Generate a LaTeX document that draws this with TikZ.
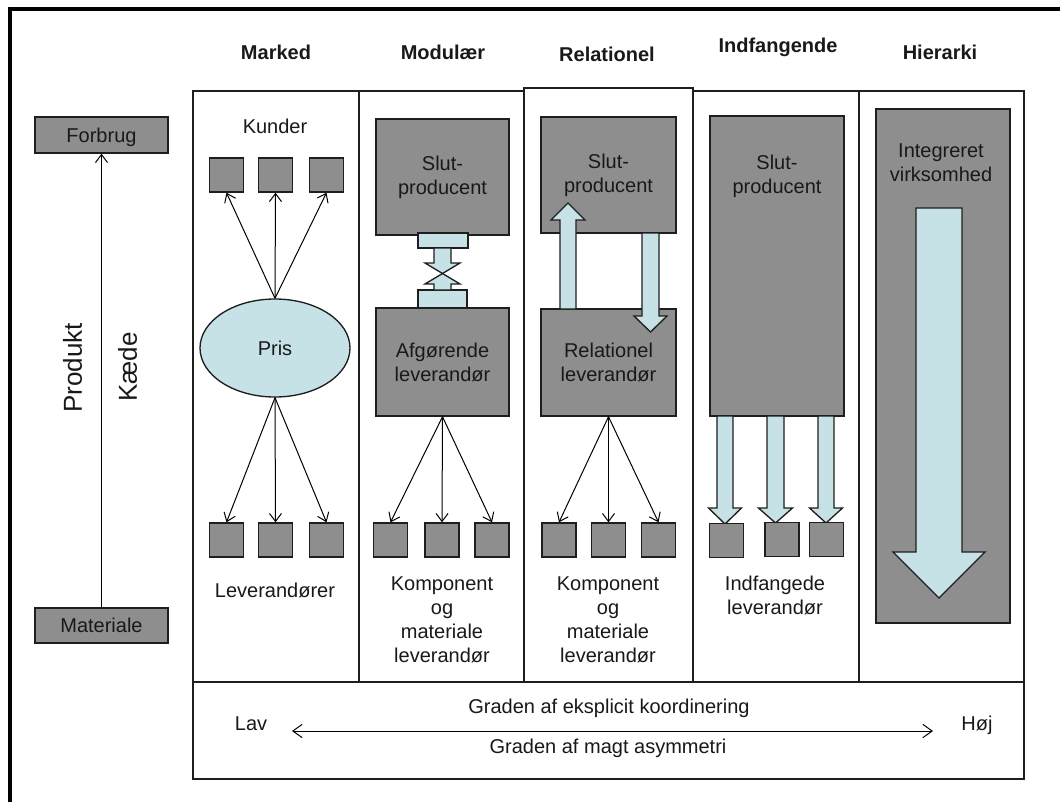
\documentclass[tikz,border=0pt]{standalone}
\usepackage{fontspec}
\setmainfont{Liberation Sans}
\usetikzlibrary{arrows.meta,shapes.geometric}
\definecolor{bgray}{RGB}{142,142,142}
\definecolor{lblue}{RGB}{198,226,230}
\definecolor{edge}{RGB}{30,30,30}
\newcommand\pp[1]{#1*0.75pt}
% x, y tail, y wing, y tip, half shaft, half head
\newcommand\blockarrow[7][blk]{\path[#1] ({#2-#6},#3) -- ({#2-#6},#4) -- ({#2-#7},#4) -- (#2,#5) -- ({#2+#7},#4) -- ({#2+#6},#4) -- ({#2+#6},#3) -- cycle;}
\begin{document}
\begin{tikzpicture}[x=0.75pt,y=-0.75pt,
  txt/.style={font=\fontsize{15}{18}\selectfont, inner sep=0pt, align=center, text=black!90},
  hdr/.style={font=\fontsize{15}{18}\selectfont\bfseries, inner sep=0pt, anchor=base, text=black!90},
  capc/.style={text height=10.7pt, text depth=0pt},
  gbox/.style={draw=edge, line width=1.1pt, fill=bgray, inner sep=0pt},
  sq/.style={gbox, minimum width=\pp{34}, minimum height=\pp{34}},
  bbox/.style 2 args={gbox, minimum width=\pp{#1}, minimum height=\pp{#2}},
  lbbox/.style 2 args={draw=edge, line width=1pt, fill=lblue, inner sep=0pt, minimum width=\pp{#1}, minimum height=\pp{#2}},
  colline/.style={draw=edge, line width=0.9pt},
  thinarr/.style={draw=black, line width=0.75pt, -{Straight Barb[length=6pt,width=9pt]}},
  blk/.style={draw=edge, line width=1pt, fill=lblue, line join=miter}
]
\useasboundingbox (0,0) rectangle (1060,801);
\fill[white] (0,0) rectangle (1060,801);
% outer frame
\draw[line width=2.6pt, black] (10,815) -- (10,9) -- (1075,9);
% table
\draw[colline] (193,91) rectangle (1024,682);
\draw[colline] (359,91) -- (359,682);
\draw[colline] (859,91) -- (859,682);
\draw[colline, fill=white] (524,88) rectangle (693,682);
\draw[colline] (193,682) rectangle (1024,779);
% headers
\node[hdr] (hmarked) at (276,59) {Marked};
\node[hdr] (hmodul) at (443,59) {Modulær};
\node[hdr] (hrel) at (607,61) {Relationel};
\node[hdr] (hindf) at (778,52) {Indfangende};
\node[hdr] (hhier) at (940,59) {Hierarki};
% left side
\node[bbox={133}{36}, txt, capc] (forb) at (101.5,135) {Forbrug};
\node[bbox={133}{35}, txt, capc] (mat) at (101.5,625.5) {Materiale};
\draw[thinarr] (mat.north) -- (forb.south);
\node[txt, rotate=90, font=\fontsize{19.5}{22}\selectfont] (prod) at (72.5,368) {Produkt};
\node[txt, rotate=90, font=\fontsize{19.5}{22}\selectfont] (kaede) at (127.5,367) {Kæde};
% Marked
\node[txt, anchor=base] (kunder) at (275,133) {Kunder};
\node[sq] (k1) at (226.5,175) {};
\node[sq] (k2) at (275.5,175) {};
\node[sq] (k3) at (326.5,175) {};
\node[ellipse, draw=edge, line width=1pt, fill=lblue, minimum width=\pp{150}, minimum height=\pp{98}, txt, capc] (pris) at (275,348) {Pris};
\draw[thinarr] (pris.north) -- (k1.south);
\draw[thinarr] (pris.north) -- (k2.south);
\draw[thinarr] (pris.north) -- (k3.south);
\node[sq] (l1) at (226.5,540) {};
\node[sq] (l2) at (275.5,540) {};
\node[sq] (l3) at (326.5,540) {};
\draw[thinarr] (pris.south) -- (l1.north);
\draw[thinarr] (pris.south) -- (l2.north);
\draw[thinarr] (pris.south) -- (l3.north);
\node[txt, anchor=base] (lev) at (275,597) {Leverandører};
% Modulaer
\node[bbox={133}{116}, txt] (mslut) at (442.5,177) {Slut-\\producent};
\node[bbox={133}{108}, txt] (afg) at (442.5,362) {Afgørende\\leverandør};
\node[lbbox={50}{15}] (mc1) at (443,240.5) {};
\node[lbbox={49}{18}] (mc2) at (442.5,299) {};
\blockarrow[fill=lblue]{442.5}{248}{263}{273.5}{8.5}{17.5}
\blockarrow[fill=lblue]{442.5}{290}{284}{273.5}{8.5}{17.5}
\blockarrow[draw=edge,line width=1pt,line join=miter]{442.5}{248}{263}{273.5}{8.5}{17.5}
\blockarrow[draw=edge,line width=1pt,line join=miter]{442.5}{290}{284}{273.5}{8.5}{17.5}
\node[sq] (m1) at (390.5,540) {};
\node[sq] (m2) at (442,540) {};
\node[sq] (m3) at (492,540) {};
\draw[thinarr] (afg.south) -- (m1.north);
\draw[thinarr] (afg.south) -- (m2.north);
\draw[thinarr] (afg.south) -- (m3.north);
\node[txt] (mkomp) at (442,620) {Komponent\\og\\materiale\\leverandør};
% Relationel
\node[bbox={135}{116}, txt] (rslut) at (608.5,175) {Slut-\\producent};
\node[bbox={135}{107}, txt] (rel) at (608.5,362.5) {Relationel\\leverandør};
\blockarrow{568}{309}{220}{203}{8}{17}
\blockarrow{650.5}{233}{316}{332}{8.5}{16.5}
\node[sq] (r1) at (559,540) {};
\node[sq] (r2) at (608.5,540) {};
\node[sq] (r3) at (658.5,540) {};
\draw[thinarr] (rel.south) -- (r1.north);
\draw[thinarr] (rel.south) -- (r2.north);
\draw[thinarr] (rel.south) -- (r3.north);
\node[txt] (rkomp) at (608,620) {Komponent\\og\\materiale\\leverandør};
% Indfangende
\node[bbox={134}{300}] (islut) at (777,266) {};
\node[txt] (islutt) at (777,176) {Slut-\\producent};
\blockarrow{725}{416}{508}{524}{8}{16.5}
\blockarrow{775.5}{416}{508}{523}{8.5}{17}
\blockarrow{826}{416}{508}{523}{8}{16.5}
\node[sq] (i1) at (726.5,540.5) {};
\node[sq] (i2) at (782,539.5) {};
\node[sq] (i3) at (826.5,539.5) {};
\node[txt] (ilev) at (775,595) {Indfangede\\leverandør};
% Hierarki
\node[bbox={134}{514}] (hier) at (943,366) {};
\node[txt] (hiert) at (941,163) {Integreret\\virksomhed};
\blockarrow{939}{208}{552}{598}{23}{46}
% bottom panel
\node[txt, anchor=base] (gk) at (609,713) {Graden af eksplicit koordinering};
\node[txt, anchor=base] (gm) at (608,753) {Graden af magt asymmetri};
\node[txt, anchor=base] (lav) at (251,730) {Lav};
\node[txt, anchor=base] (hoj) at (977,730) {Høj};
\coordinate (lavend) at (292,731);
\coordinate (hojend) at (933,731);
\draw[draw=black, line width=0.75pt, {Straight Barb[length=7pt,width=10pt]}-{Straight Barb[length=7pt,width=10pt]}] (lavend) -- (hojend);
\end{tikzpicture}
\end{document}
